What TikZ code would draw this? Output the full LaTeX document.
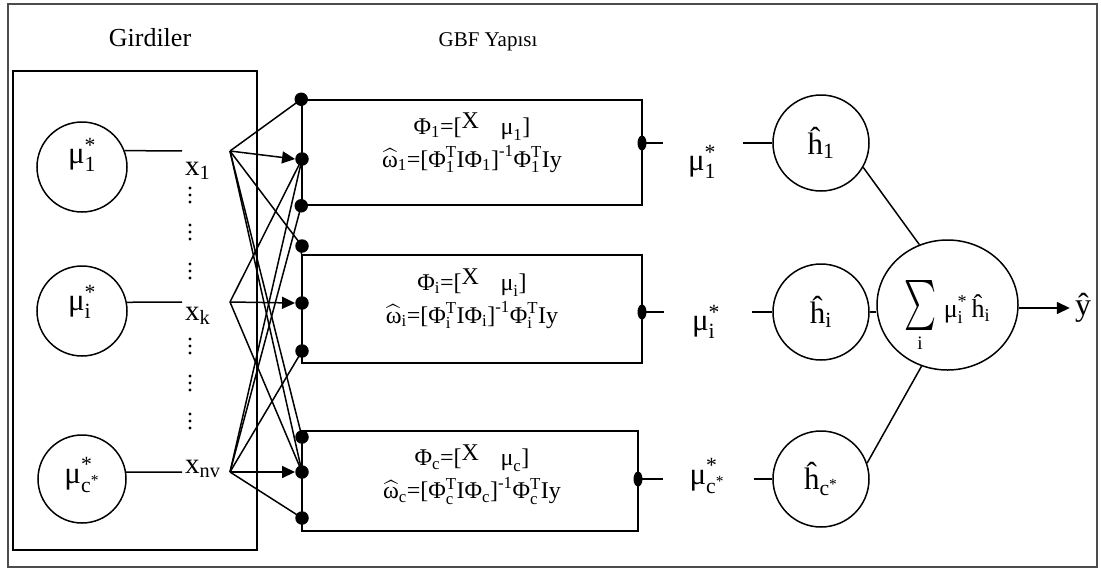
\RequirePackage{fix-cm}
\documentclass[tikz,border=0pt]{standalone}
\usepackage{fontspec}
\usepackage{amsmath}
\usepackage{graphicx}
\setmainfont{Liberation Serif}
\usetikzlibrary{arrows.meta,shapes.geometric}

% text-font sub/superscripts
\newcommand{\tsub}[2]{\ensuremath{\text{#1}_{\text{#2}}}}
\newcommand{\tsubsup}[3]{\ensuremath{\text{#1}_{\text{#2}}^{\text{#3}}}}
\newcommand{\fs}[1]{\fontsize{#1}{#1}\selectfont}
% the two formula lines of a GBF block
\newcommand{\pline}[1]{\tsub{Φ}{#1}=[\raisebox{0.22em}{X}\hspace{0.9em}\tsub{μ}{#1}]}
\newcommand{\wline}[1]{$\widehat{\text{ω}}_{\text{#1}}\text{=[}\text{Φ}^{\text{T}}_{\text{#1}}\text{IΦ}_{\text{#1}}\text{]}^{\text{-1}}\text{Φ}^{\text{T}}_{\text{#1}}\text{Iy}$}

\begin{document}
\begin{tikzpicture}[x=1pt,y=-1pt,
  wire/.style={line width=1.5pt},
  arr/.style={wire,-{Triangle[length=13pt,width=12pt]}},
  ring/.style={circle,draw,line width=1.5pt,inner sep=0pt},
  pin/.style={circle,fill,inner sep=0pt,minimum size=13.5pt},
  opin/.style={ellipse,fill,inner sep=0pt,minimum width=9pt,minimum height=15pt},
  gbox/.style={rectangle,draw,line width=1.5pt,inner sep=0pt},
  txt/.style={inner sep=0pt},
  btxt/.style={txt,align=center,font=\fontsize{24}{33}\selectfont},
  mulbl/.style={txt,font=\fs{31}},
  hlbl/.style={ring,minimum size=96pt,font=\fs{31}},
]
\useasboundingbox (0,0) rectangle (1101,571);
\draw[draw=black!70,line width=1.5pt] (8,4) rectangle (1097,567);
\draw[wire] (13,71) rectangle (257,550);
\node[txt,font=\fs{26}] (girdiler) at (150,38) {Girdiler};
\node[txt,font=\fs{21}] (gbf) at (488,42) {GBF Yapısı};

% input membership units
\node[ring,minimum size=90pt] (m1) at (82,167) {};
\node[ring,minimum size=90pt] (m2) at (82,311) {};
\node[ring,minimum size=88pt] (m3) at (82,479) {};
\node[mulbl] (m1t) at (82,155) {\tsubsup{μ}{1}{*}};
\node[mulbl] (m2t) at (82,302) {\tsubsup{μ}{i}{*}};
\node[mulbl] (m3t) at (82,475) {$\text{μ}_{\text{c}^{\text{*}}}^{\text{*}}$};

% input variables
\node[txt,font=\fs{29},anchor=base west] (x1) at (185,175) {\tsub{x}{1}};
\node[txt,font=\fs{29},anchor=base west] (x2) at (185,320) {\tsub{x}{k}};
\node[txt,font=\fs{29},anchor=base west] (x3) at (185,473) {\tsub{x}{nv}};
\coordinate (s1) at (230,151);
\coordinate (s2) at (230,302);
\coordinate (s3) at (230,472);
\draw[wire,shorten >=3pt] (m1.21) -- (x1.west |- s1);
\draw[wire,shorten >=3pt] (m2.11) -- (x2.west |- s2);
\draw[wire,shorten >=3pt] (m3.9) -- (x3.west |- s3);
\foreach \y in {188,195,202,225,232,239,264,271,278,339,346,353,376,383,390,414,421,428}
  \fill (190,\y) circle (1.7pt);

% GBF blocks
\node[gbox,minimum width=340pt,minimum height=105pt] (b1) at (472,152.5) {};
\node[gbox,minimum width=340pt,minimum height=108pt] (b2) at (472,309) {};
\node[gbox,minimum width=336pt,minimum height=100pt] (b3) at (470,481) {};
\node[btxt] (t1) at (472,143) {\pline{1}\\\wline{1}};
\node[btxt] (t2) at (472,299) {\pline{i}\\\wline{i}};
\node[btxt] (t3) at (472,475) {\pline{c}\\\wline{c}};

% block input pins
\node[pin] (p1) at (b1.north west) {};
\node[pin] (p2) at (302,159) {};
\node[pin] (p3) at (b1.south west) {};
\node[pin] (p4) at (302,246) {};
\node[pin] (p5) at (302,303) {};
\node[pin] (p6) at (302,351) {};
\node[pin] (p7) at (302,437) {};
\node[pin] (p8) at (302,472) {};
\node[pin] (p9) at (302,518) {};
\draw[wire] (p4.center) -- (b2.north west);

% connections from the inputs
\draw[wire] (s1) -- (p1.center);
\draw[arr] (s1) -- (p2.west);
\draw[wire] (s1) -- (p4.center);
\draw[wire] (s1) -- (p7.center);
\draw[wire] (s1) -- (p8.center);
\draw[wire] (s2) -- (p2.center);
\draw[arr] (s2) -- (p5.west);
\draw[wire] (s2) -- (p8.center);
\draw[wire] (s3) -- (p2.center);
\draw[wire] (s3) -- (p3.center);
\draw[wire] (s3) -- (p6.center);
\draw[arr] (s3) -- (p8.west);
\draw[wire] (s3) -- (p9.center);

% block outputs
\node[opin] (o1) at (642,143) {};
\node[opin] (o2) at (642,312) {};
\node[opin] (o3) at (638,479) {};
\coordinate (a1) at (663,143);
\coordinate (a2) at (664,312);
\coordinate (a3) at (663,479);
\coordinate (c1) at (743,143);
\coordinate (c2) at (752,312);
\coordinate (c3) at (754,479);
\node[mulbl] (w1) at (702,162) {\tsubsup{μ}{1}{*}};
\node[mulbl] (w2) at (706,322) {\tsubsup{μ}{i}{*}};
\node[mulbl] (w3) at (707,476) {$\text{μ}_{\text{c}^{\text{*}}}^{\text{*}}$};

% rule outputs
\node[hlbl] (h1) at (821,143) {\tsub{ĥ}{1}};
\node[hlbl] (h2) at (821,312) {\tsub{ĥ}{i}};
\node[hlbl] (h3) at (821,479) {$\text{ĥ}_{\text{c}^{\text{*}}}$};
\draw[wire] (o1.center) -- (a1);
\draw[wire] (o2.center) -- (a2);
\draw[wire] (o3.center) -- (a3);
\draw[wire] (c1) -- (h1.west);
\draw[wire] (c2) -- (h2.west);
\draw[wire] (c3) -- (h3.west);

% weighted sum
\node[ellipse,draw,line width=1.5pt,minimum width=141pt,minimum height=130pt,inner sep=0pt] (sig) at (947.5,305) {};
\node[txt] (sigsym) at (920,305) {\resizebox*{32pt}{50pt}{$\sum$}};
\node[txt,font=\fs{19}] (sigidx) at (920,343) {i};
\node[txt,font=\fs{26}] (sigterm) at (967,309) {\tsubsup{μ}{i}{*}\,\tsub{ĥ}{i}};
\draw[wire] (h1.-30) -- (sig.115);
\draw[wire] (h2.east) -- (sig.west |- h2.east);
\draw[wire] (h3.19) -- (sig.247);
\node[txt,font=\fs{32},inner sep=5pt] (yhat) at (1083,308) {ŷ};
\draw[arr] (sig.east |- yhat.west) -- (yhat.west);
\end{tikzpicture}
\end{document}
